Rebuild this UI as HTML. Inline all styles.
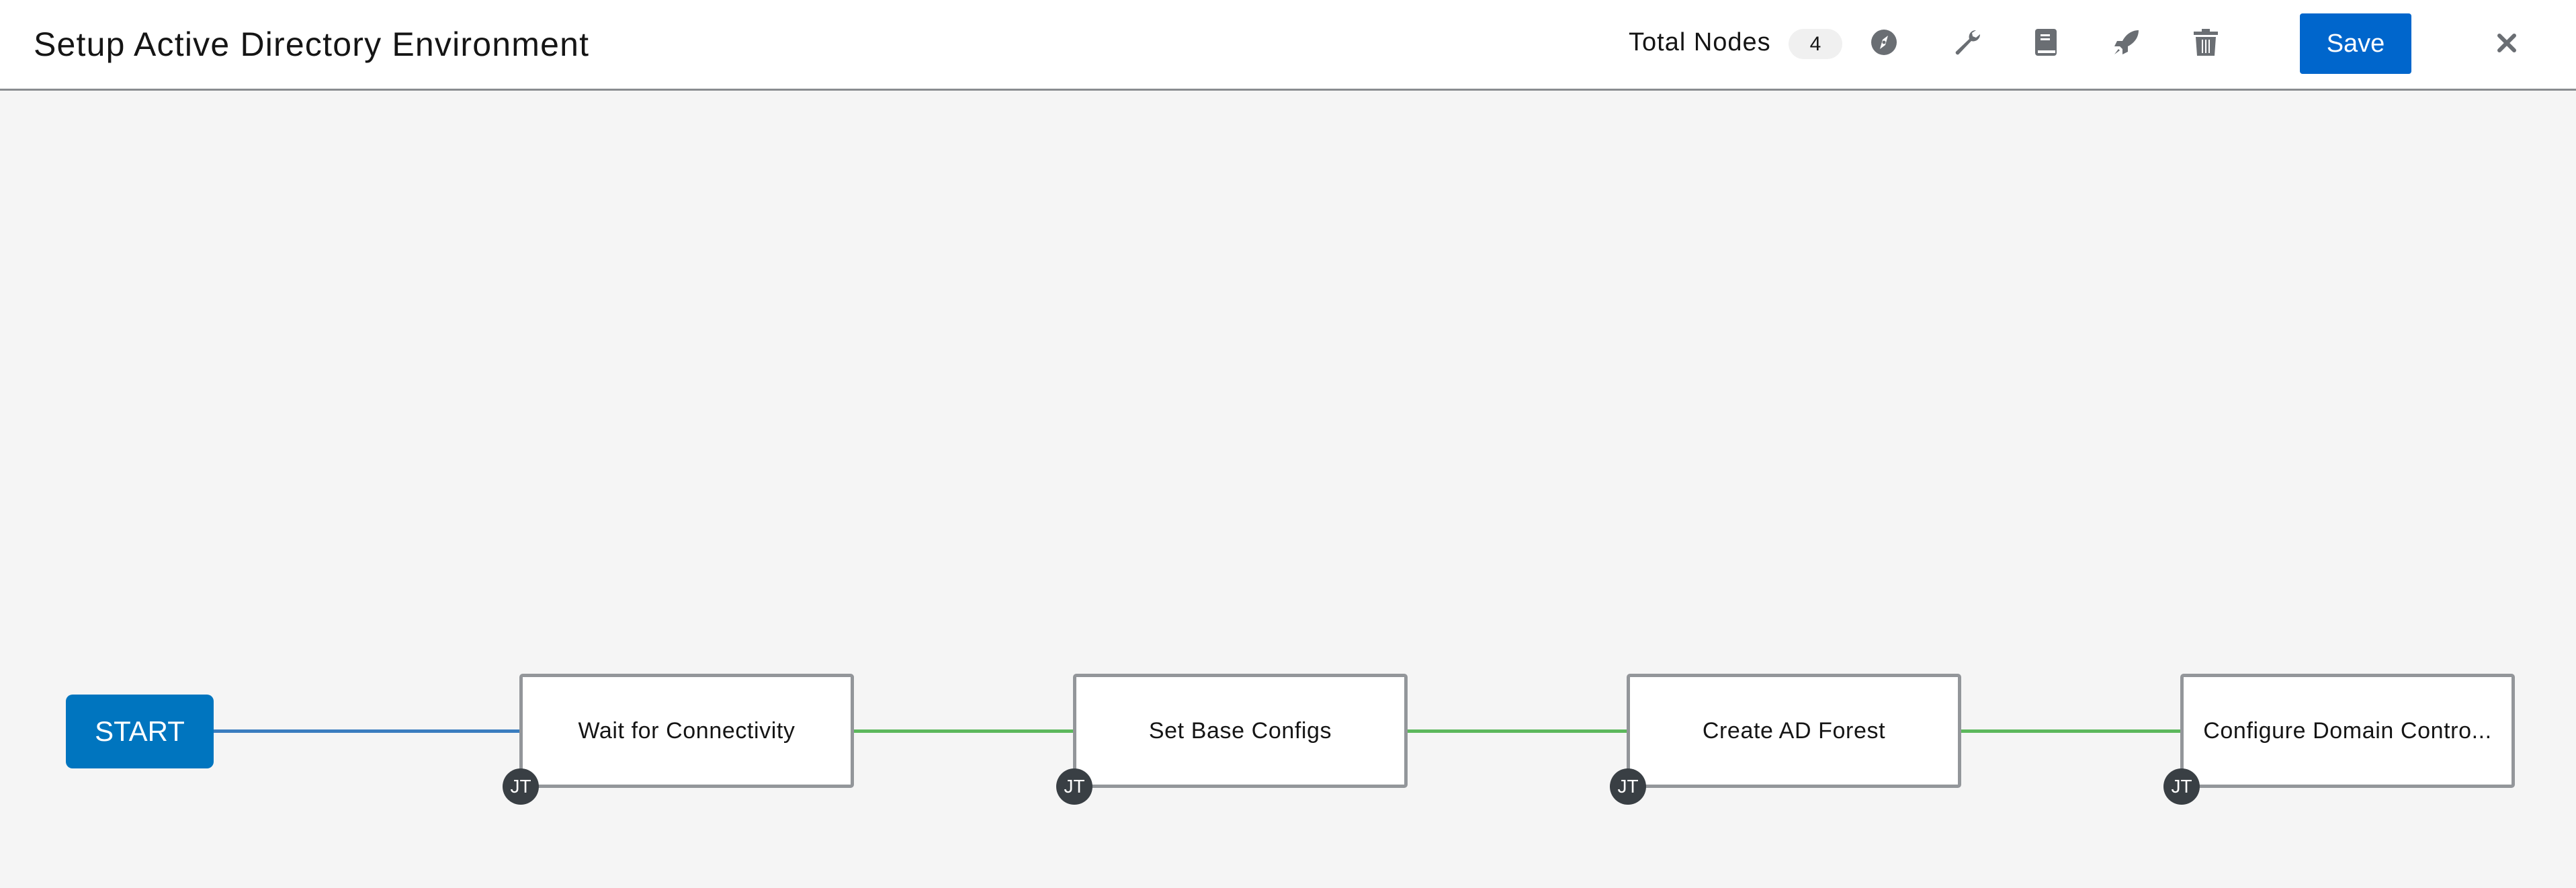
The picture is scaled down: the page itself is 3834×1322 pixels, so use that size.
<!DOCTYPE html>
<html><head><meta charset="utf-8"><style>
html,body{margin:0;padding:0}
body{width:3834px;height:1322px;background:#f5f5f5;position:relative;overflow:hidden;font-family:"Liberation Sans",sans-serif}
.hdr{position:absolute;left:0;top:0;width:3834px;height:132px;background:#fff;border-bottom:3px solid #8a8d90}
.title{position:absolute;left:50px;top:37px;font-size:50px;color:#151515;letter-spacing:1.2px}
.tn{position:absolute;left:2424px;top:42px;font-size:38px;color:#151515;letter-spacing:1px}
.badge{position:absolute;left:2662px;top:43px;width:80px;height:45px;border-radius:23px;background:#f0f0f0;font-size:30px;text-align:center;line-height:45px;color:#151515}
.save{position:absolute;left:3423px;top:20px;width:166px;height:90px;border-radius:4px;background:#0066cc;color:#fff;font-size:38px;text-align:center;line-height:90px}
.ic{position:absolute;top:43px}
.edge{position:absolute;height:5px;top:1086px}
.node{position:absolute;top:1003px;width:488px;height:160px;border:5px solid #93969a;border-radius:5px;background:#fff;text-align:center;line-height:160px;font-size:34px;color:#151515;white-space:nowrap;letter-spacing:0.6px}
.jt{position:absolute;top:1144px;width:54px;height:54px;border-radius:50%;background:#393f44;color:#fff;font-size:28px;text-align:center;line-height:54px}
.start{position:absolute;left:98px;top:1034px;width:220px;height:110px;border-radius:10px;background:#0075bf;color:#fff;font-size:42px;text-align:center;line-height:110px}
</style></head><body>
<div class="hdr">
<div class="title">Setup Active Directory Environment</div>
<div class="tn">Total Nodes</div>
<div class="badge">4</div>
<svg class="ic" style="left:2784px" width="40" height="40" viewBox="0 0 40 40"><circle cx="20" cy="20" r="19" fill="#6a6e73"/><polygon points="26,10 22,24 14,30 18,16" fill="#fff"/><circle cx="20" cy="20" r="2.5" fill="#6a6e73"/></svg>
<svg class="ic" style="left:2905px" width="44" height="40" viewBox="0 0 44 40"><path d="M36 2 a10 10 0 0 0 -10 13 L6 34 a3 3 0 0 0 4 4 L29 18 a10 10 0 0 0 13 -10 l-6 5 -5 -2 -1 -5 z" fill="#6a6e73"/></svg>
<svg class="ic" style="left:3027px" width="36" height="40" viewBox="0 0 36 40"><rect x="2" y="0" width="32" height="40" rx="4" fill="#6a6e73"/><rect x="10" y="8" width="14" height="3" fill="#fff"/><rect x="10" y="14" width="14" height="3" fill="#fff"/><rect x="6" y="32" width="26" height="4" fill="#fff"/></svg>
<svg class="ic" style="left:3145px" width="40" height="40" viewBox="0 0 40 40"><path d="M38 2 C26 2 18 10 14 18 L6 18 2 26 10 26 14 30 14 38 22 34 22 26 C30 22 38 14 38 2z" fill="#6a6e73"/><path d="M8 30 L2 38 10 32z" fill="#6a6e73"/></svg>
<svg class="ic" style="left:3265px" width="36" height="40" viewBox="0 0 36 40"><rect x="0" y="4" width="36" height="5" fill="#6a6e73"/><rect x="12" y="0" width="12" height="5" fill="#6a6e73"/><path d="M3 12 H33 L31 40 H5z" fill="#6a6e73"/><rect x="12" y="16" width="2" height="20" fill="#fff"/><rect x="17" y="16" width="2" height="20" fill="#fff"/><rect x="22" y="16" width="2" height="20" fill="#fff"/></svg>
<div class="save">Save</div>
<svg style="position:absolute;left:3716px;top:49px" width="30" height="30" viewBox="0 0 30 30"><path d="M4 4 L26 26 M26 4 L4 26" stroke="#6a6e73" stroke-width="6" stroke-linecap="round"/></svg>
</div>
<div class="edge" style="left:318px;width:456px;background:#3a7dbf"></div>
<div class="edge" style="left:1270px;width:328px;background:#5cb85c"></div>
<div class="edge" style="left:2094px;width:328px;background:#5cb85c"></div>
<div class="edge" style="left:2918px;width:328px;background:#5cb85c"></div>
<div class="start">START</div>
<div class="node" style="left:773px">Wait for Connectivity</div>
<div class="node" style="left:1597px">Set Base Configs</div>
<div class="node" style="left:2421px">Create AD Forest</div>
<div class="node" style="left:3245px">Configure Domain Contro...</div>
<div class="jt" style="left:748px">JT</div>
<div class="jt" style="left:1572px">JT</div>
<div class="jt" style="left:2396px">JT</div>
<div class="jt" style="left:3220px">JT</div>
</body></html>
